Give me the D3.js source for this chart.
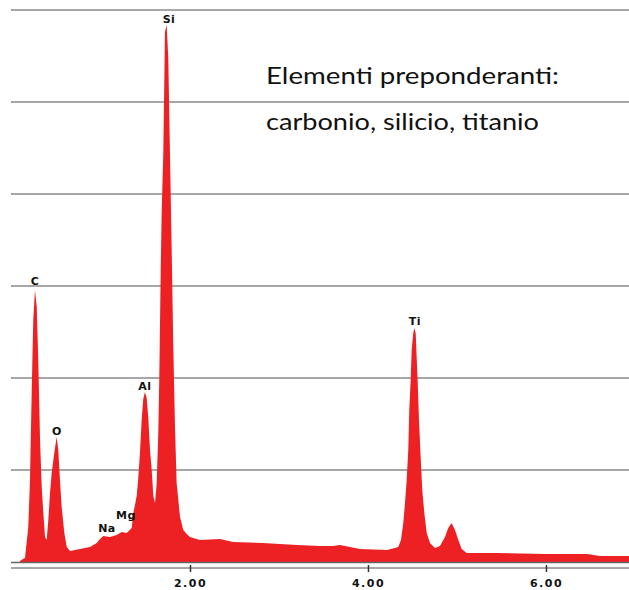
<!DOCTYPE html>
<html>
<head>
<meta charset="utf-8">
<script src="https://cdn.jsdelivr.net/npm/d3@7"></script>
<style>
  body { margin: 0; background: #fff; }
  .peak-label { font-family: "DejaVu Sans", sans-serif; font-weight: bold; font-size: 11px; letter-spacing: 0.5px; fill: #111; }
  .tick text { font-family: "DejaVu Sans", sans-serif; font-weight: bold; font-size: 11px; letter-spacing: 1.5px; fill: #111; }
  .note { font-family: Lato, "Open Sans", sans-serif; font-size: 24px; fill: #111; }
</style>
</head>
<body>
<div id="viz"></div>
<script>
// spectrum: energy (keV) and counts
const energy = [0.09, 0.124, 0.146, 0.183, 0.202, 0.221, 0.239, 0.258, 0.278, 0.296, 0.315, 0.334, 0.352, 0.371, 0.390,
  0.408, 0.427, 0.446, 0.475, 0.502, 0.520, 0.539, 0.558, 0.588, 0.615, 0.652, 0.764, 0.876, 0.952, 0.989, 1.026,
  1.101, 1.176, 1.233, 1.289, 1.345, 1.363, 1.382, 1.401, 1.419, 1.438, 1.457, 1.475, 1.494, 1.513, 1.531, 1.551,
  1.570, 1.588, 1.607, 1.626, 1.644, 1.655, 1.671, 1.682, 1.700, 1.719, 1.738, 1.756, 1.775, 1.794, 1.812, 1.831,
  1.850, 1.888, 1.925, 1.963, 2.000, 2.112, 2.225, 2.337, 2.483, 2.820, 3.202, 3.461, 3.607, 3.685, 3.798, 3.910,
  4.213, 4.303, 4.340, 4.371, 4.397, 4.416, 4.435, 4.453, 4.464, 4.480, 4.491, 4.509, 4.520, 4.536, 4.547, 4.558,
  4.573, 4.592, 4.610, 4.633, 4.660, 4.697, 4.753, 4.809, 4.865, 4.902, 4.940, 4.978, 5.015, 5.053, 5.109, 5.449,
  6.011, 6.461, 6.607, 6.933];
const counts = [11, 33, 43, 380, 891, 1837, 2630, 2957, 2772, 2163, 1326, 815, 533, 272, 239,
  457, 750, 967, 1185, 1359, 1217, 891, 598, 315, 163, 120, 141, 163, 207, 250, 283,
  272, 293, 326, 315, 370, 533, 620, 717, 913, 1185, 1543, 1772, 1848, 1783, 1576, 1217,
  1000, 717, 641, 859, 1413, 2000, 3174, 3804, 4435, 5761, 5837, 5478, 4435, 3413, 2359, 1489,
  859, 489, 348, 304, 272, 239, 245, 250, 217, 207, 185, 174, 174, 185, 163, 141,
  130, 152, 163, 239, 424, 641, 891, 1217, 1652, 1978, 2304, 2489, 2543, 2489, 2228, 1978,
  1543, 1141, 783, 533, 315, 207, 152, 174, 272, 370, 424, 348, 239, 141, 98, 98,
  87, 87, 65, 65];

// peak labels
const peakNames = ["C", "O", "Na", "Mg", "Al", "Si", "Ti"];
const peakEnergy = [0.258, 0.506, 1.067, 1.281, 1.494, 1.764, 4.528];
const peakCounts = [2978, 1348, 293, 435, 1837, 5826, 2543];

const xTicks = [2, 4, 6];
const noteLines = ["Elementi preponderanti:", "carbonio, silicio, titanio"];

const width = 629, height = 590;
const svg = d3.select("#viz").append("svg")
  .attr("width", width)
  .attr("height", height);

const x = d3.scaleLinear().domain([0, 6.933]).range([12, 629]);
const y = d3.scaleLinear().domain([0, 6000]).range([562, 10]);

// grid lines
svg.append("g")
  .selectAll("line")
  .data(y.ticks(6).filter(d => d > 0))
  .join("line")
  .attr("x1", 11).attr("x2", width)
  .attr("y1", d => y(d)).attr("y2", d => y(d))
  .attr("stroke", "#8a8a8a")
  .attr("stroke-width", 1.5);

// spectrum
const spectrum = energy.map((e, i) => [e, counts[i]]);
const area = d3.area()
  .x(d => x(d[0]))
  .y0(y(0))
  .y1(d => y(d[1]));

svg.append("path")
  .datum(spectrum)
  .attr("d", area)
  .attr("fill", "#ed2024");

// baseline
svg.append("line")
  .attr("x1", 11).attr("x2", width)
  .attr("y1", y(0) + 0.5).attr("y2", y(0) + 0.5)
  .attr("stroke", "#666")
  .attr("stroke-width", 1.5);

// energy axis
const axis = svg.append("g")
  .attr("transform", "translate(0,568)")
  .call(d3.axisBottom(x).tickValues(xTicks).tickFormat(d3.format(".2f")).tickSizeOuter(0));

axis.select(".domain").attr("stroke", "#888").attr("stroke-width", 1.5)
  .attr("d", `M11,0H${width}`);
axis.selectAll(".tick line").attr("y1", -3).attr("y2", 4).attr("stroke", "#333").attr("stroke-width", 1.5);
axis.selectAll(".tick text").attr("y", 19).attr("dy", 0);

// element labels
svg.append("g")
  .selectAll("text")
  .data(peakNames)
  .join("text")
  .attr("class", "peak-label")
  .attr("text-anchor", "middle")
  .attr("x", (d, i) => x(peakEnergy[i]))
  .attr("y", (d, i) => y(peakCounts[i]) - 3)
  .text(d => d);

// note
svg.append("text")
  .attr("class", "note")
  .attr("x", 266).attr("y", 84)
  .attr("textLength", 293).attr("lengthAdjust", "spacingAndGlyphs")
  .text(noteLines[0]);
svg.append("text")
  .attr("class", "note")
  .attr("x", 266).attr("y", 130)
  .attr("textLength", 273).attr("lengthAdjust", "spacingAndGlyphs")
  .text(noteLines[1]);
</script>
</body>
</html>
